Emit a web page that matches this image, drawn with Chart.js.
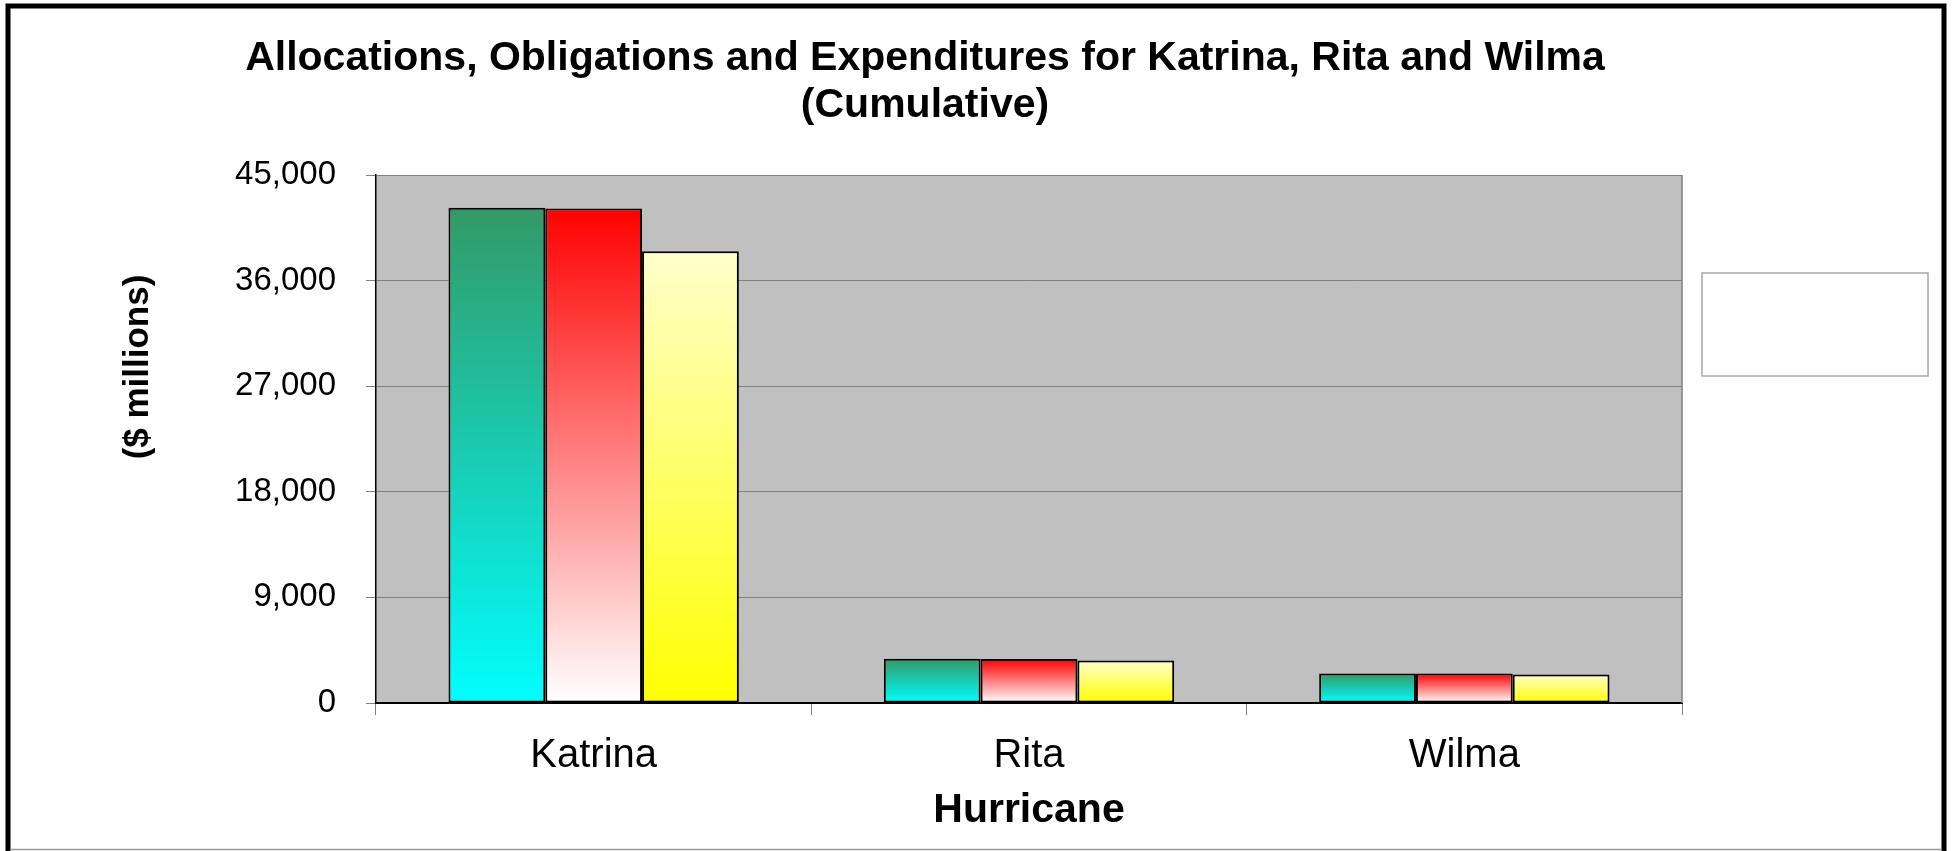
<!DOCTYPE html>
<html>
<head>
<meta charset="utf-8">
<script src="https://cdn.jsdelivr.net/npm/chart.js@4"></script>
<style>
  html, body { margin: 0; padding: 0; background: #fff; }
  #wrap { width: 1952px; height: 851px; position: relative; }
</style>
</head>
<body>
<div id="wrap"><canvas id="chart"></canvas></div>
<script>
// Data ($ millions)
const hurricanes = ['Katrina', 'Rita', 'Wilma'];
const allocations = [42200, 3780, 2510];
const obligations = [42150, 3750, 2510];
const expenditures = [38500, 3630, 2430];
const yTicks = [0, 9000, 18000, 27000, 36000, 45000];

const FONT = "'Liberation Sans', Arial, sans-serif";

// vertical gradient that runs from the top of each bar down to zero
function barGradient(ctx, top, bottom) {
  const chart = ctx.chart;
  if (!chart.chartArea || ctx.type !== 'data') return bottom;
  const y = chart.scales.y;
  const yTop = y.getPixelForValue(ctx.raw);
  const yBot = y.getPixelForValue(0);
  const g = chart.ctx.createLinearGradient(0, yTop, 0, yBot);
  g.addColorStop(0, top);
  g.addColorStop(1, bottom);
  return g;
}

const decorations = {
  id: 'decorations',
  beforeDraw(chart) {
    const c = chart.ctx;
    const a = chart.chartArea;
    c.save();
    c.fillStyle = '#ffffff';
    c.fillRect(0, 0, chart.width, chart.height);
    c.fillStyle = '#c0c0c0';
    c.fillRect(a.left, a.top, a.right - a.left, a.bottom - a.top);
    c.restore();
  },
  afterDraw(chart) {
    const c = chart.ctx;
    const a = chart.chartArea;
    c.save();
    // right edge of plot area
    c.strokeStyle = '#808080';
    c.lineWidth = 1.5;
    c.beginPath();
    c.moveTo(a.right, a.top);
    c.lineTo(a.right, a.bottom);
    c.stroke();

    // outer frame
    c.strokeStyle = '#000';
    c.lineWidth = 5;
    c.beginPath();
    c.moveTo(8, 851);
    c.lineTo(8, 6);
    c.lineTo(1944, 6);
    c.lineTo(1944, 851);
    c.stroke();
    c.strokeStyle = '#999';
    c.lineWidth = 1.5;
    c.beginPath();
    c.moveTo(10, 849.5);
    c.lineTo(1942, 849.5);
    c.stroke();

    // empty legend box
    c.fillStyle = '#fff';
    c.fillRect(1702, 273, 226, 103);
    c.strokeStyle = '#a8a8a8';
    c.lineWidth = 1.5;
    c.strokeRect(1702, 273, 226, 103);

    // chart title
    c.fillStyle = '#000';
    c.textAlign = 'center';
    c.textBaseline = 'middle';
    c.font = 'bold 41px ' + FONT;
    c.fillText('Allocations, Obligations and Expenditures for Katrina, Rita and Wilma', 925, 59);
    c.fillText('(Cumulative)', 925, 106);

    // y axis title
    c.translate(138, 367);
    c.rotate(-Math.PI / 2);
    c.font = 'bold 35px ' + FONT;
    c.fillText('($ millions)', 0, 0);
    c.restore();
  }
};

const ctx = document.getElementById('chart').getContext('2d');
new Chart(ctx, {
  type: 'bar',
  data: {
    labels: hurricanes,
    datasets: [
      {
        label: 'Allocations',
        data: allocations,
        backgroundColor: c => barGradient(c, '#339966', '#00ffff'),
        borderColor: '#000',
        borderWidth: 2,
        borderSkipped: false
      },
      {
        label: 'Obligations',
        data: obligations,
        backgroundColor: c => barGradient(c, '#ff0000', '#ffffff'),
        borderColor: '#000',
        borderWidth: 2,
        borderSkipped: false
      },
      {
        label: 'Expenditures',
        data: expenditures,
        backgroundColor: c => barGradient(c, '#ffffcc', '#ffff00'),
        borderColor: '#000',
        borderWidth: 2,
        borderSkipped: false
      }
    ]
  },
  options: {
    responsive: true,
    maintainAspectRatio: false,
    animation: false,
    layout: { padding: { top: 175, right: 270, left: 0, bottom: 0 } },
    datasets: { bar: { categoryPercentage: 0.667, barPercentage: 1.0 } },
    plugins: {
      legend: { display: false },
      title: { display: false },
      tooltip: { enabled: false }
    },
    scales: {
      x: {
        afterFit: s => { s.height = 148; },
        grid: { drawOnChartArea: false, drawTicks: true, tickLength: 12, color: '#808080', offset: true },
        border: { color: '#000', width: 2 },
        ticks: { color: '#000', padding: 17, font: { family: FONT, size: 40 } },
        title: {
          display: true,
          text: 'Hurricane',
          color: '#000',
          padding: { top: 0, bottom: 16 },
          font: { family: FONT, size: 41, weight: 'bold' }
        }
      },
      y: {
        min: 0,
        max: 45000,
        afterFit: s => { s.width = 376; },
        afterBuildTicks: s => { s.ticks = yTicks.map(v => ({ value: v })); },
        grid: { color: '#808080', lineWidth: 1, tickLength: 10 },
        border: { color: '#000', width: 1.5 },
        ticks: {
          color: '#000',
          padding: 30,
          font: { family: FONT, size: 33 },
          callback: v => v.toLocaleString('en-US')
        }
      }
    }
  },
  plugins: [decorations]
});
</script>
</body>
</html>
